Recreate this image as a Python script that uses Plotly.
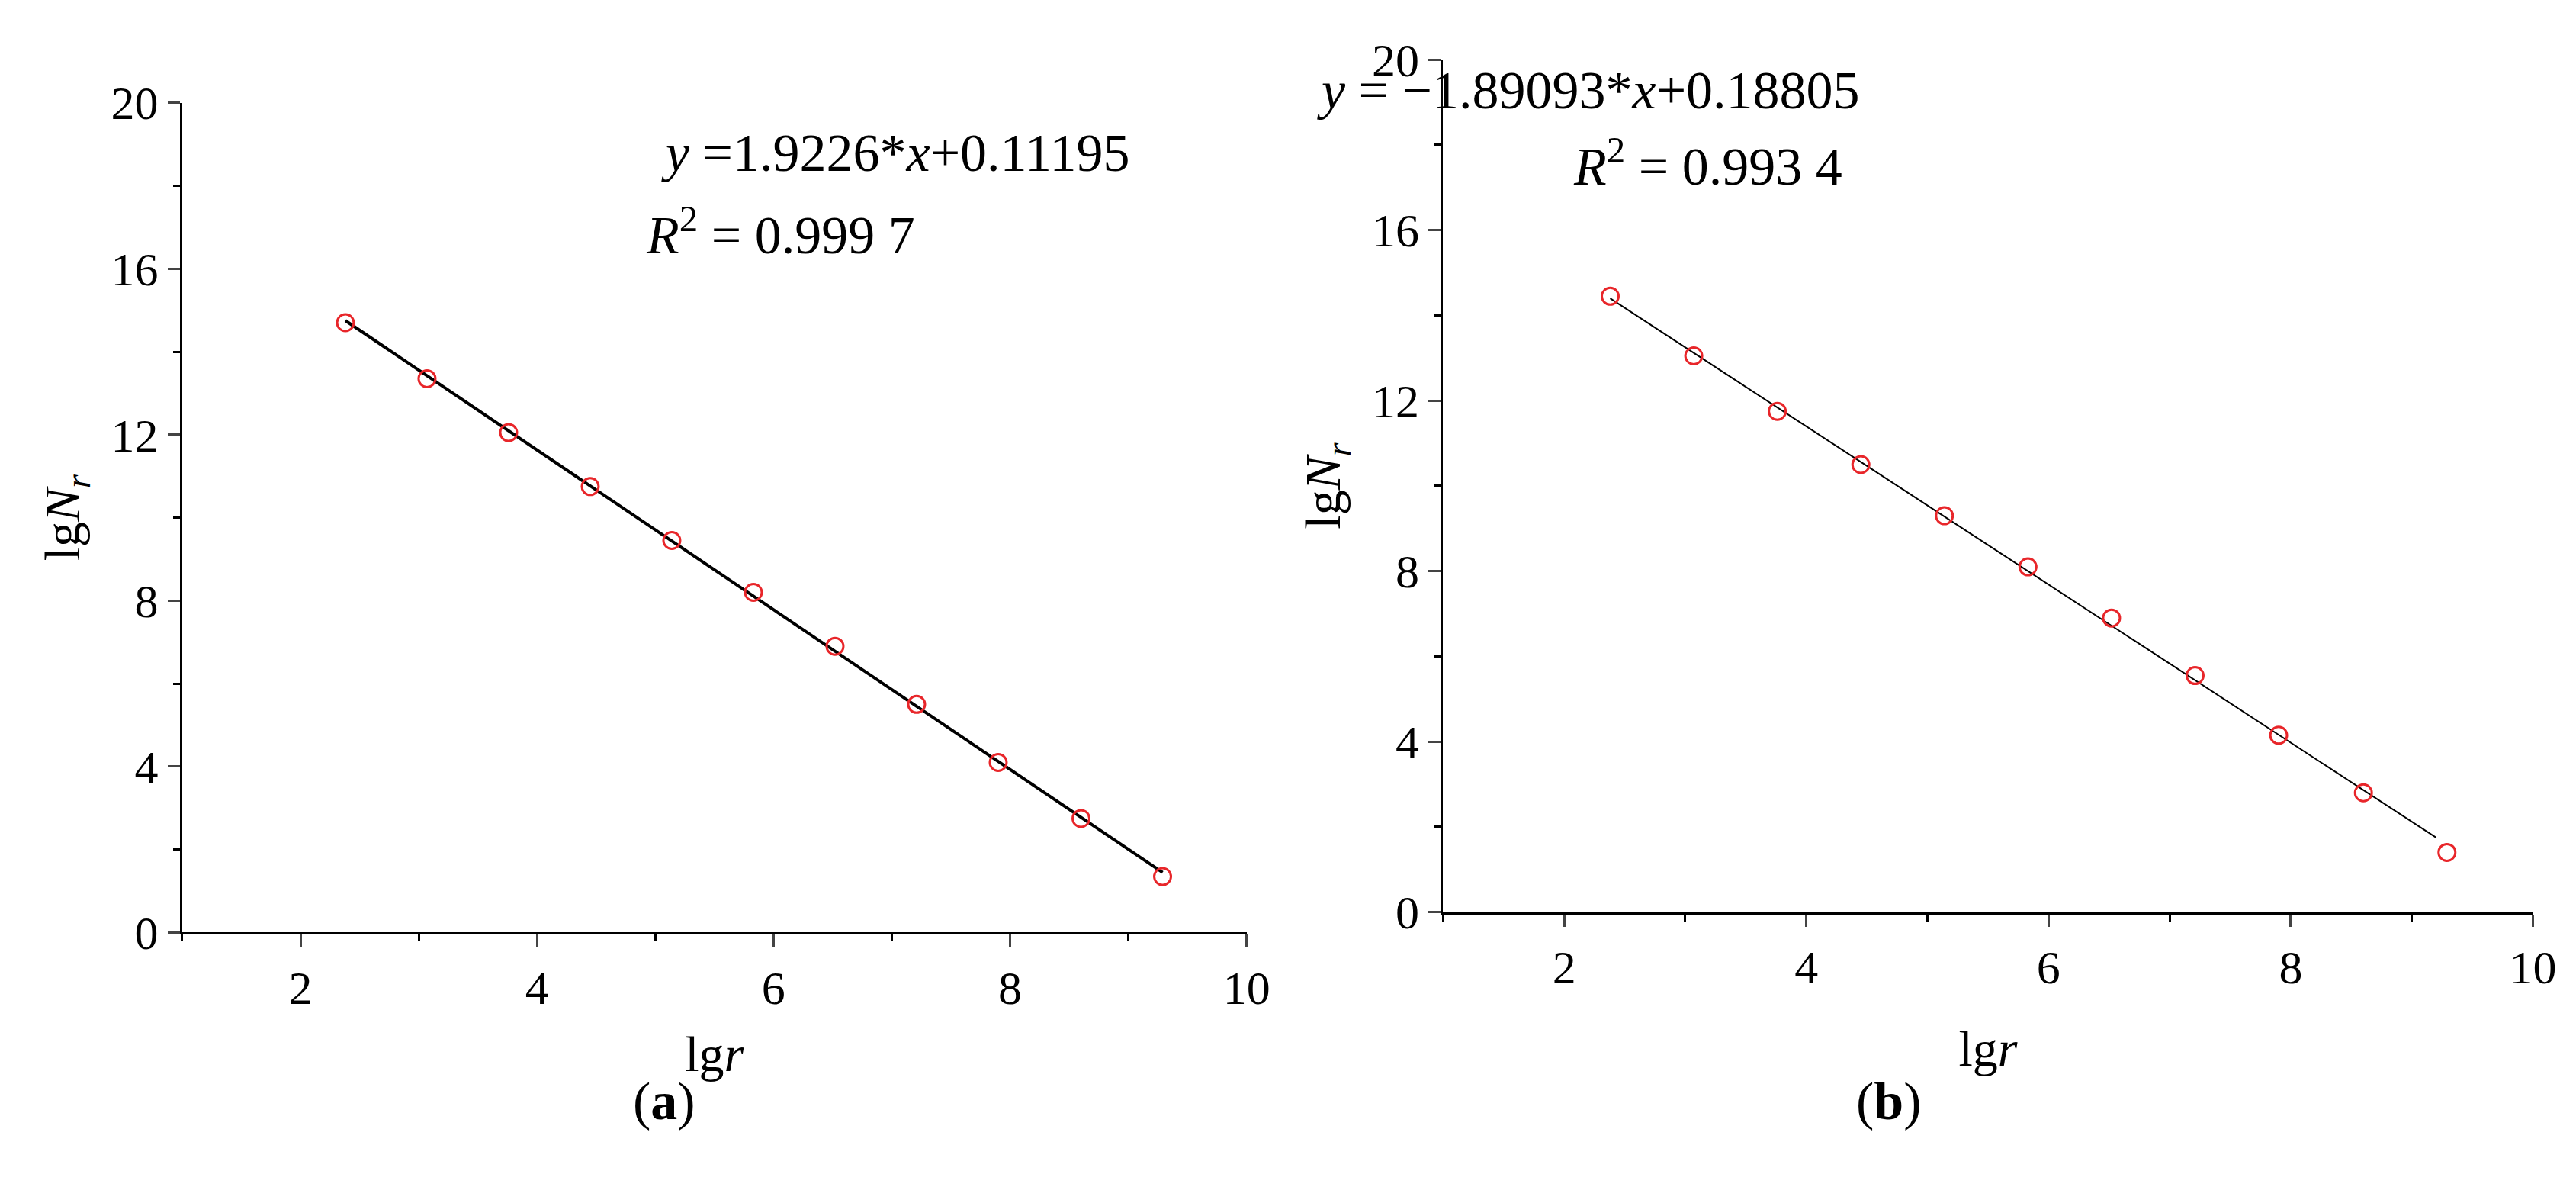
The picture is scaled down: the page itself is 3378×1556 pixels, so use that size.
import plotly.graph_objects as go

lgr = [2.38, 3.07, 3.76, 4.45, 5.14, 5.83, 6.52, 7.21, 7.90, 8.60, 9.29]
lgn_a = [14.7, 13.35, 12.05, 10.75, 9.45, 8.2, 6.9, 5.5, 4.1, 2.75, 1.35]
lgn_b = [14.45, 13.05, 11.75, 10.5, 9.3, 8.1, 6.9, 5.55, 4.15, 2.8, 1.4]
fit_a_x = [2.38, 9.29]
fit_a_y = [14.75, 1.45]
fit_b_x = [2.38, 9.2]
fit_b_y = [14.4, 1.75]

F = "Liberation Serif"
red = "#e8262a"
fig = go.Figure()
fig.add_trace(go.Scatter(x=fit_a_x, y=fit_a_y, mode="lines", line=dict(color="black", width=4),
                         xaxis="x", yaxis="y"))
fig.add_trace(go.Scatter(x=lgr, y=lgn_a, mode="markers", xaxis="x", yaxis="y",
                         marker=dict(symbol="circle-open", size=22, color=red, line=dict(width=3))))
fig.add_trace(go.Scatter(x=fit_b_x, y=fit_b_y, mode="lines", line=dict(color="black", width=2),
                         xaxis="x2", yaxis="y2"))
fig.add_trace(go.Scatter(x=lgr, y=lgn_b, mode="markers", xaxis="x2", yaxis="y2",
                         marker=dict(symbol="circle-open", size=22, color=red, line=dict(width=3))))

ax = dict(range=[1, 10], tickvals=[2, 4, 6, 8, 10], showline=True, linecolor="black", linewidth=3,
          ticks="outside", ticklen=16, tickwidth=3, showgrid=False, zeroline=False,
          tickfont=dict(family=F, size=62, color="black"),
          minor=dict(dtick=1, ticks="outside", ticklen=9, tickwidth=2.5, tickcolor="black"))
ay = dict(range=[0, 20], tickvals=[0, 4, 8, 12, 16, 20], showline=True, linecolor="black", linewidth=3,
          ticks="outside", ticklen=16, tickwidth=3, showgrid=False, zeroline=False,
          tickfont=dict(family=F, size=62, color="black"),
          minor=dict(dtick=2, ticks="outside", ticklen=9, tickwidth=2.5, tickcolor="black"))
tf = dict(family=F, size=66, color="black")
af = dict(family=F, size=70, color="black")
fig.update_layout(
    width=3378, height=1556, paper_bgcolor="white", plot_bgcolor="white", showlegend=False,
    margin=dict(l=0, r=0, t=0, b=0),
    xaxis=dict(ax, domain=[0.069, 0.486], anchor="y",
               title=dict(text="lg<i>r</i>", font=tf, standoff=30)),
    yaxis=dict(ay, domain=[0.206, 0.937], anchor="x",
               title=dict(text="lg<i>N<sub>r</sub></i>", font=tf, standoff=20)),
    xaxis2=dict(ax, domain=[0.563, 0.99], anchor="y2",
                title=dict(text="lg<i>r</i>", font=tf, standoff=50)),
    yaxis2=dict(ay, domain=[0.224, 0.975], anchor="x2",
                title=dict(text="lg<i>N<sub>r</sub></i>", font=tf, standoff=20)),
    annotations=[
        dict(text="<i>y</i> =1.9226*<i>x</i>+0.11195", x=0.256, y=0.92, xref="paper", yref="paper",
             showarrow=False, font=af),
        dict(text="<i>R</i><sup>2</sup> = 0.999 7", x=0.25, y=0.855, xref="paper", yref="paper",
             showarrow=False, font=af),
        dict(text="<i>y</i> = −1.89093*<i>x</i>+0.18805", x=0.727, y=0.975, xref="paper", yref="paper",
             showarrow=False, font=af),
        dict(text="<i>R</i><sup>2</sup> = 0.993 4", x=0.72, y=0.915, xref="paper", yref="paper",
             showarrow=False, font=af),
        dict(text="(<b>a</b>)", x=0.245, y=0.03, xref="paper", yref="paper", showarrow=False, font=af),
        dict(text="(<b>b</b>)", x=0.751, y=0.03, xref="paper", yref="paper", showarrow=False, font=af),
    ],
)
fig.write_html("out.html")
